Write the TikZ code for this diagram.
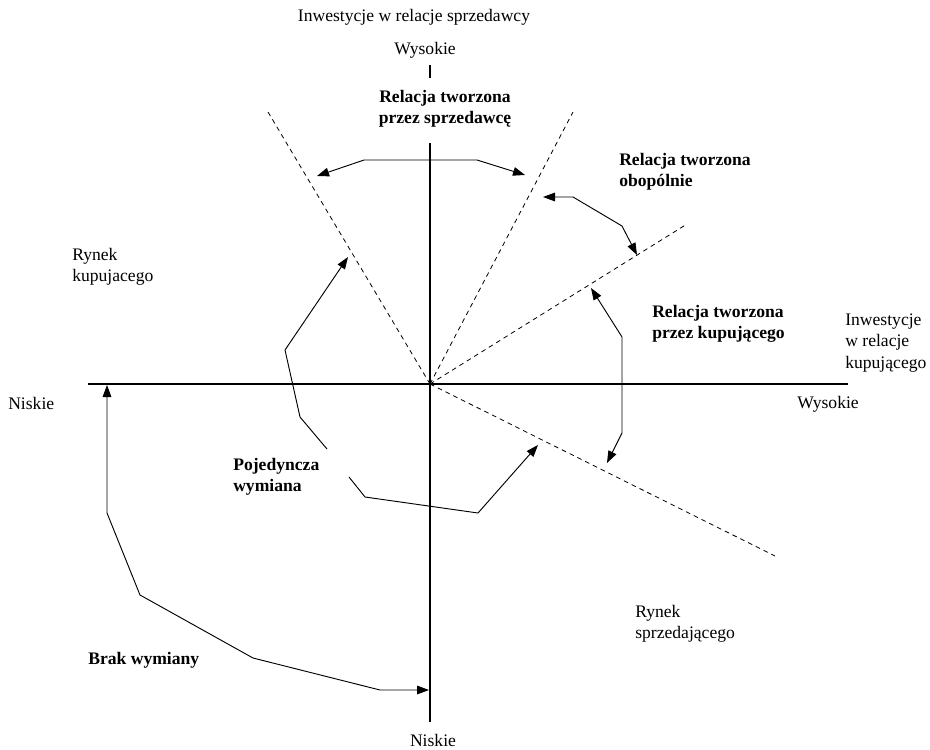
\documentclass[tikz,border=0pt]{standalone}
\usepackage{fontspec}
\setmainfont{Liberation Serif}
\usetikzlibrary{arrows.meta, positioning}

\begin{document}
\begin{tikzpicture}[x=0.75pt,y=-0.75pt,font=\fontsize{13.2}{16}\selectfont,
    txt/.style={inner sep=0pt,align=left},
    bld/.style={txt,font=\fontsize{13.2}{16}\selectfont\bfseries},
    axis/.style={line width=0.9pt},
    ray/.style={line width=0.6pt,dash pattern=on 3.5pt off 3pt},
    link/.style={line width=0.7pt,line join=round},
    tri/.tip={Triangle[length=9pt,width=6.5pt]}]
   \useasboundingbox (0,0) rectangle (930,749);
   % axes
   \coordinate (o) at (430,384);
   \coordinate (yt) at (430,65);
   \coordinate (yt2) at (430,78);
   \coordinate (ym) at (430,143);
   \coordinate (yb) at (430,722);
   \coordinate (xl) at (88,384);
   \coordinate (xr) at (848,384);
   \draw[axis] (yt) -- (yt2);
   \draw[axis] (ym) -- (yb);
   \draw[axis] (xl) -- (xr);
   % boundaries
   \coordinate (r1) at (268,112);
   \coordinate (r2) at (573,112);
   \coordinate (r3) at (687,224);
   \coordinate (r4) at (775,556);
   \foreach \r in {r1,r2,r3,r4}
     \draw[ray] (o) -- (\r);
   % labels
   \node[txt] (top) at (414,17) {Inwestycje w relacje sprzedawcy};
   \node[txt] (hi) at (425,50) {Wysokie};
   \node[bld,align=center] (sell) at (445,109) {Relacja tworzona\\przez sprzedawcę};
   \node[bld,anchor=west] (both) at (619,172) {Relacja tworzona\\obopólnie};
   \node[bld,anchor=west] (buy) at (652,324) {Relacja tworzona\\przez kupującego};
   \node[txt,anchor=west] (invb) at (845,343) {Inwestycje\\w relacje\\kupującego};
   \node[txt,anchor=west] (hi2) at (797,404) {Wysokie};
   \node[txt,anchor=west] (lo) at (8,403) {Niskie};
   \node[txt] (lo2) at (433,740) {Niskie};
   \node[txt,anchor=west] (bmkt) at (72,267) {Rynek\\kupujacego};
   \node[txt,anchor=west] (smkt) at (635,624) {Rynek\\sprzedającego};
   \node[bld,anchor=west] (one) at (233,477) {Pojedyncza\\wymiana};
   \node[bld,anchor=west] (none) at (88,660) {Brak wymiany};
   % arrows
   \coordinate (s1) at (317,176);
   \coordinate (s2) at (364,160);
   \coordinate (s3) at (477,160);
   \coordinate (s4) at (525,175);
   \draw[link,tri-tri] (s1) -- (s2) -- (s3) -- (s4);
   \coordinate (m1) at (543,197);
   \coordinate (m2) at (573,197);
   \coordinate (m3) at (622,226);
   \coordinate (m4) at (637,255);
   \draw[link,tri-tri] (m1) -- (m2) -- (m3) -- (m4);
   \coordinate (k1) at (591,288);
   \coordinate (k2) at (622,337);
   \coordinate (k3) at (622,433);
   \coordinate (k4) at (607,463);
   \draw[link,tri-tri] (k1) -- (k2) -- (k3) -- (k4);
   \coordinate (p1) at (348,257);
   \coordinate (p2) at (285,350);
   \coordinate (p3) at (300,417);
   \coordinate (p4) at (327,449);
   \coordinate (p5) at (349,477);
   \coordinate (p6) at (365,497);
   \coordinate (p7) at (478,513);
   \coordinate (p8) at (538,445);
   \draw[link,tri-] (p1) -- (p2) -- (p3) -- (p4);
   \draw[link,-tri] (p5) -- (p6) -- (p7) -- (p8);
   \coordinate (b1) at (107,385);
   \coordinate (b2) at (107,513);
   \coordinate (b3) at (140,595);
   \coordinate (b4) at (253,658);
   \coordinate (b5) at (380,690);
   \coordinate (b6) at (429,690);
   \draw[link,tri-tri] (b1) -- (b2) -- (b3) -- (b4) -- (b5) -- (b6);
\end{tikzpicture}
\end{document}
